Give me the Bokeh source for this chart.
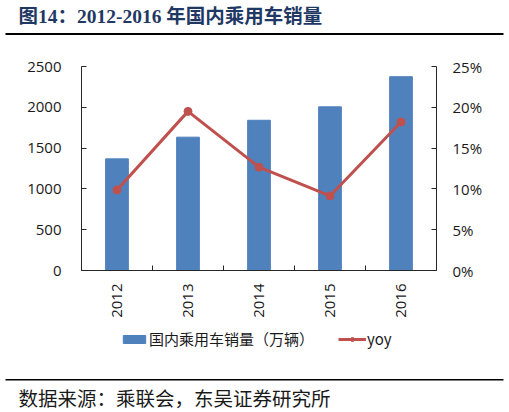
import math
from bokeh.plotting import figure
from bokeh.layouts import column
from bokeh.models import (Range1d, LinearAxis, FixedTicker, NumeralTickFormatter,
                          Label, BoxAnnotation, Legend, LegendItem)
from bokeh.embed import file_html
from bokeh.resources import INLINE

# ---- data ----
years = ["2012", "2013", "2014", "2015", "2016"]
sales = [1368, 1634, 1841, 2006, 2375]
yoy = [0.0987, 0.195, 0.1266, 0.0914, 0.182]
left_ticks = [0, 500, 1000, 1500, 2000, 2500]
right_ticks = [0, 0.05, 0.10, 0.15, 0.20, 0.25]
title_text = "图14：2012-2016 年国内乘用车销量"
bar_label = "国内乘用车销量（万辆）"
line_label = "yoy"
source_text = "数据来源：乘联会，东吴证券研究所"

W = 509
H_TOP, H_RULE, H_MAIN, H_BOT = 30, 26, 264, 92
BLUE = "#4F81BD"
RED = "#C0504D"
AX = "#262626"
TXT = "#1a1a1a"
FONT = "Open Sans"
CJK = "Noto Sans CJK SC"
NAN = float("nan")


def blank(h):
    f = figure(width=W, height=h, output_backend="svg", toolbar_location=None,
               x_range=Range1d(0, W), y_range=Range1d(0, h),
               x_axis_location=None, y_axis_location=None, min_border=0,
               frame_align=False)
    f.grid.visible = False
    f.outline_line_color = None
    f.background_fill_color = "white"
    f.border_fill_color = "white"
    return f


# ---- header: title ----
top = blank(H_TOP)
top.add_layout(Label(x=18, y=H_TOP - 15.5, text=title_text,
                     text_font="Liberation Serif, Noto Sans CJK SC", text_font_style="bold",
                     text_font_size="19.5px", text_color="#1F3864", text_baseline="middle"))

# ---- header: rule ----
rule = blank(H_RULE)
rule.add_layout(BoxAnnotation(left=5, right=503, top=H_RULE - 2.5, bottom=H_RULE - 4.5,
                              fill_color="black", fill_alpha=1, line_color=None))

# ---- main chart ----
xs = list(range(1, len(years) + 1))
p = figure(width=W, height=H_MAIN, output_backend="svg", toolbar_location=None,
           x_range=Range1d(0.5, len(years) + 0.5), y_range=Range1d(0, 2500),
           x_axis_location=None, y_axis_location=None,
           min_border_left=81, min_border_right=73, min_border_top=10,
           min_border_bottom=48, frame_align=False)
p.extra_y_ranges = {"pct": Range1d(0, 0.25)}
p.grid.visible = False
p.outline_line_color = None
p.background_fill_color = "white"
p.border_fill_color = "white"

xaxis = LinearAxis(ticker=FixedTicker(ticks=xs, minor_ticks=[i + 0.5 for i in range(len(years) + 1)]))
xaxis.major_label_overrides = {x: y for x, y in zip(xs, years)}
xaxis.major_tick_in = 0
xaxis.major_tick_out = 0
xaxis.minor_tick_in = 5
xaxis.minor_tick_out = 0
xaxis.minor_tick_line_color = AX
xaxis.axis_line_color = AX
xaxis.major_label_orientation = math.pi / 2
xaxis.major_label_standoff = 13
xaxis.major_label_text_font = FONT
xaxis.major_label_text_font_size = "15px"
xaxis.major_label_text_color = TXT
p.add_layout(xaxis, "below")

yl = LinearAxis(ticker=FixedTicker(ticks=left_ticks))
yr = LinearAxis(ticker=FixedTicker(ticks=right_ticks), y_range_name="pct",
                formatter=NumeralTickFormatter(format="0%"))
for ax, so in ((yl, 20), (yr, 16)):
    ax.major_tick_in = 5
    ax.major_tick_out = 0
    ax.minor_tick_in = 0
    ax.minor_tick_out = 0
    ax.major_tick_line_color = AX
    ax.axis_line_color = AX
    ax.major_label_standoff = so
    ax.major_label_text_font = FONT
    ax.major_label_text_font_size = "15px"
    ax.major_label_text_color = TXT
p.add_layout(yl, "left")
p.add_layout(yr, "right")

p.vbar(x=xs, top=sales, width=0.32, fill_color=BLUE, line_color=BLUE)
p.line(xs, yoy, y_range_name="pct", line_color=RED, line_width=3)
p.scatter(xs, yoy, y_range_name="pct", size=8, fill_color=RED, line_color=RED)

# ---- footer: legend, rule, source ----
bot = blank(H_BOT)
# legend-only stand-ins (NaN data: nothing drawn in the footer itself)
lg_bar = bot.vbar(x=[NAN], top=[NAN], width=1, fill_color=BLUE, line_color=BLUE)
lg_line = bot.line(x=[NAN], y=[NAN], line_color=RED, line_width=3)
lg_dot = bot.scatter(x=[NAN], y=[NAN], size=8, fill_color=RED, line_color=RED)
legend = Legend(items=[LegendItem(label=bar_label, renderers=[lg_bar]),
                       LegendItem(label=line_label, renderers=[lg_line, lg_dot])],
                orientation="horizontal", location=(120, 63),
                border_line_color=None, background_fill_alpha=0,
                glyph_width=28, glyph_height=10, spacing=24, padding=0, margin=0,
                label_standoff=1, label_text_font=CJK, label_text_font_size="15px",
                label_text_color=TXT)
bot.add_layout(legend)
bot.add_layout(BoxAnnotation(left=5, right=503, top=H_BOT - 58.6, bottom=H_BOT - 60,
                             fill_color="black", fill_alpha=1, line_color=None))
bot.add_layout(Label(x=18, y=H_BOT - 77, text=source_text, text_font=CJK,
                     text_font_size="19.5px", text_color=TXT, text_baseline="middle"))

layout = column(top, rule, p, bot, spacing=0)
open("out.html", "w").write(file_html(layout, INLINE))
